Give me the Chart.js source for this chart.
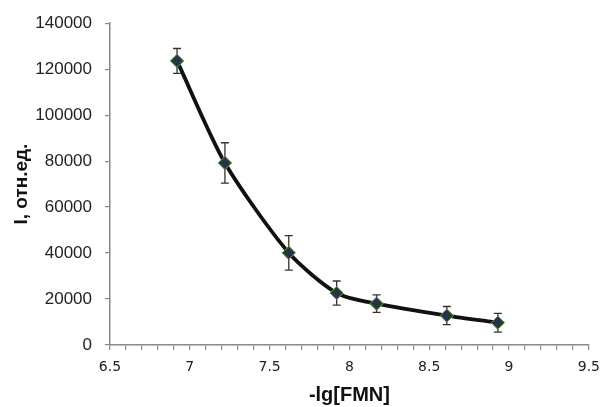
<!DOCTYPE html>
<html>
<head>
<meta charset="utf-8">
<script src="https://cdn.jsdelivr.net/npm/chart.js@4/dist/chart.umd.min.js"></script>
<style>
  html, body { margin: 0; padding: 0; background: #fff; }
  #wrap { width: 609px; height: 407px; }
</style>
</head>
<body>
<div id="wrap"><canvas id="chart"></canvas></div>
<script>
const xValues = [6.92, 7.22, 7.62, 7.92, 8.17, 8.61, 8.93];
const yValues = [123600, 79200, 40100, 22600, 18000, 12800, 9700];
const yErrors = [5400, 8800, 7500, 5250, 3800, 3950, 4100];
const xTickLabels = [6.5, 7, 7.5, 8, 8.5, 9, 9.5];

const points = xValues.map((x, i) => ({ x: x, y: yValues[i] }));

// error bars, then markers drawn again over them
const errorBars = {
  id: "errorBars",
  afterDatasetsDraw(chart) {
    const ctx = chart.ctx;
    const xs = chart.scales.x, ys = chart.scales.y;
    ctx.save();
    ctx.strokeStyle = "#333";
    ctx.lineWidth = 1.3;
    points.forEach((p, i) => {
      const px = xs.getPixelForValue(p.x);
      const top = ys.getPixelForValue(p.y + yErrors[i]);
      const bot = ys.getPixelForValue(p.y - yErrors[i]);
      ctx.beginPath();
      ctx.moveTo(px, top); ctx.lineTo(px, bot);
      ctx.moveTo(px - 4, top); ctx.lineTo(px + 4, top);
      ctx.moveTo(px - 4, bot); ctx.lineTo(px + 4, bot);
      ctx.stroke();
    });
    ctx.restore();
    const meta = chart.getDatasetMeta(0);
    meta.data.forEach(pt => pt.draw(ctx, chart.chartArea));
  }
};

new Chart(document.getElementById("chart"), {
  type: "scatter",
  data: {
    datasets: [{
      data: points,
      showLine: true,
      borderColor: "#111",
      borderWidth: 3.8,
      tension: 0.25,
      pointStyle: "rectRot",
      pointRadius: 6.5,
      pointBackgroundColor: "#283345",
      pointBorderColor: "#5a9a3a",
      pointBorderWidth: 1
    }]
  },
  options: {
    responsive: true,
    maintainAspectRatio: false,
    animation: false,
    layout: { padding: { top: 21, right: 12, bottom: 0, left: 0 } },
    plugins: { legend: { display: false }, tooltip: { enabled: false } },
    scales: {
      x: {
        type: "linear",
        min: 6.5,
        max: 9.5,
        afterFit: s => { s.height = 62; },
        border: { color: "#888", width: 1.5 },
        grid: { drawOnChartArea: false, drawTicks: true, tickLength: 5, color: "#888", lineWidth: 1.2 },
        ticks: {
          stepSize: 0.1,
          autoSkip: false,
          maxRotation: 0,
          padding: 9,
          color: "#222",
          font: { family: "DejaVu Sans", size: 14 },
          callback: v => {
            const r = Math.round(v * 10) / 10;
            return xTickLabels.some(t => Math.abs(t - r) < 1e-6) ? String(r) : "";
          }
        },
        title: {
          display: true,
          text: "-lg[FMN]",
          color: "#111",
          font: { family: "Liberation Sans", size: 20, weight: "bold" },
          padding: { top: 0, bottom: 0 }
        }
      },
      y: {
        min: 0,
        max: 140000,
        afterFit: s => { s.width = 110; },
        border: { color: "#888", width: 1.5 },
        grid: { drawOnChartArea: false, drawTicks: true, tickLength: 5, color: "#888", lineWidth: 1.2 },
        ticks: {
          stepSize: 20000,
          padding: 13,
          color: "#222",
          font: { family: "Liberation Sans", size: 17 },
          callback: v => String(v)
        },
        title: {
          display: true,
          text: "I, отн.ед.",
          color: "#111",
          font: { family: "Liberation Sans", size: 19, weight: "bold" },
          padding: { top: 10, bottom: 0 }
        }
      }
    }
  },
  plugins: [errorBars]
});
</script>
</body>
</html>
